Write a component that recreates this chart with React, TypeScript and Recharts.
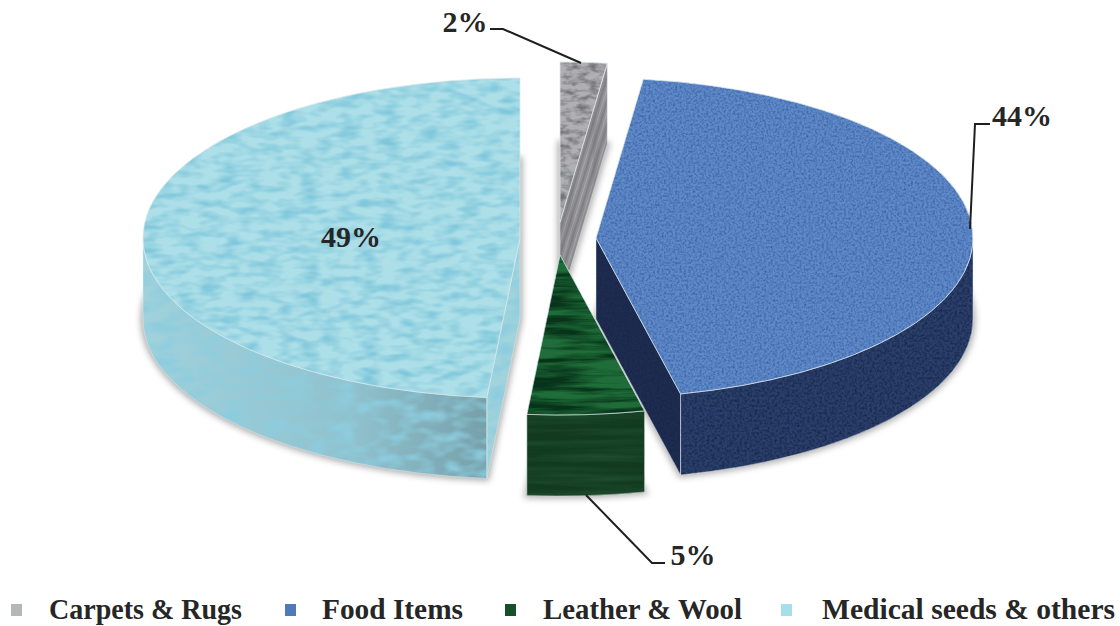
import { Legend, Pie, PieChart } from "recharts";

const categories = ["Carpets & Rugs", "Food Items", "Leather & Wool", "Medical seeds & others"];
const shares = [2.0, 44.4, 5.0, 48.6];

// how far each slice is pulled out of the pie
const explodeX = [0, 36, 0, -40];
const explodeY = [-16, 0, 17, 0];

const topColors = ["#b0b0b4", "#5f8ac8", "#1f6e39", "#addfe8"];
const rimColors = ["#8f8f93", "#2a3f6c", "#113a1e", "url(#medicalRim)"];
const cutColors = ["url(#carpetStripes)", "#1d2c50", "#113a1e", "#a0d3dc"];
const swatchColors = ["#b4b7ba", "#5079ba", "#174f2a", "#a6dfea"];

const labelX = [465, 1022, 693, 351];
const labelY = [32, 126, 565, 247];
const leaders = [
  "490,29 503,29 581,63",
  "990,124 975,124 970,229",
  "665,563 652,563 586,495",
  "",
];
const legendSwatchX = [11, 285, 505, 781];
const legendTextX = [49, 322, 543, 822];
const legendTextWidth = [193, 141, 199, 293];

const SERIF = "'Liberation Serif', serif";
const RX = 377;
const RY = 160;
const DEPTH = 81;
const WIDTH = 1120;
const HEIGHT = 626;

const data = categories.map((name, i) => ({ name, value: shares[i] }));
const rad = (deg: number) => (deg * Math.PI) / 180;

// one noise overlay, clipped to the shape it is applied on
function Grain({ id, freq, octaves, rgb, gain, bias }: any) {
  return (
    <filter id={id} x="0" y="0" width="100%" height="100%" colorInterpolationFilters="sRGB">
      <feTurbulence type="fractalNoise" baseFrequency={freq} numOctaves={octaves} seed={4} result="n" />
      <feColorMatrix
        in="n"
        type="matrix"
        values={`0 0 0 0 ${rgb[0]} 0 0 0 0 ${rgb[1]} 0 0 0 0 ${rgb[2]} ${gain} 0 0 0 ${bias}`}
        result="g"
      />
      <feComposite in="g" in2="SourceAlpha" operator="in" result="c" />
      <feMerge>
        <feMergeNode in="SourceGraphic" />
        <feMergeNode in="c" />
      </feMerge>
    </filter>
  );
}

function Slice3D(props: any) {
  const { cx, cy, startAngle, endAngle, index } = props;
  const i = index ?? categories.indexOf(props.name);
  const t1 = 90 - startAngle;
  const t2 = 90 - endAngle;
  const ox = cx + explodeX[i];
  const oy = cy + explodeY[i];
  const pt = (t: number, drop = 0) => [ox + RX * Math.sin(rad(t)), oy - RY * Math.cos(rad(t)) + drop];
  const arc = (a: number, b: number, drop = 0) => {
    const [x, y] = pt(b, drop);
    const sweep = b > a ? 1 : 0;
    return `A${RX} ${RY} 0 ${Math.abs(b - a) > 180 ? 1 : 0} ${sweep} ${x} ${y}`;
  };
  const at = (t: number, drop = 0) => pt(t, drop).join(" ");

  const top = `M${ox} ${oy} L${at(t1)} ${arc(t1, t2)} Z`;
  const bottom = `M${ox} ${oy + DEPTH} L${at(t1, DEPTH)} ${arc(t1, t2, DEPTH)} Z`;

  const rimFrom = Math.max(t1, 90);
  const rimTo = Math.min(t2, 270);
  const rim =
    rimTo > rimFrom
      ? `M${at(rimFrom)} ${arc(rimFrom, rimTo)} L${at(rimTo, DEPTH)} ${arc(rimTo, rimFrom, DEPTH)} Z`
      : null;

  // a cut face shows only when it turns towards the viewer
  const cutAt = Math.sin(rad(t1)) < -0.001 ? t1 : Math.sin(rad(t2)) > 0.001 ? t2 : null;
  const cut =
    cutAt === null
      ? null
      : `M${ox} ${oy} L${at(cutAt)} L${at(cutAt, DEPTH)} L${ox} ${oy + DEPTH} Z`;

  return (
    <g>
      <defs>
        <filter id="soft" x="-20%" y="-20%" width="140%" height="140%">
          <feGaussianBlur stdDeviation="3" />
        </filter>
        <linearGradient id="medicalRim" x1="0" y1="0" x2="1" y2="0">
          <stop offset="0" stopColor="#a0d2dc" />
          <stop offset="0.6" stopColor="#90c2ce" />
          <stop offset="1" stopColor="#76a0aa" />
        </linearGradient>
        <pattern id="carpetStripes" width="7" height="7" patternUnits="userSpaceOnUse" patternTransform="rotate(17)">
          <rect width="7" height="7" fill="#929296" />
          <rect width="2" height="7" fill="#828286" />
          <rect x="4" width="1" height="7" fill="#a8a8ab" />
        </pattern>
        <Grain id="top0" freq="0.09 0.2" octaves={3} rgb={[0.45, 0.45, 0.47]} gain={2.4} bias={-0.95} />
        <Grain id="top1" freq="0.45 0.45" octaves={2} rgb={[0.24, 0.39, 0.66]} gain={2.2} bias={-0.85} />
        <Grain id="top2" freq="0.012 0.16" octaves={4} rgb={[0.03, 0.2, 0.1]} gain={2.8} bias={-1.0} />
        <Grain id="top3" freq="0.05 0.13" octaves={2} rgb={[0.5, 0.78, 0.86]} gain={2.4} bias={-0.95} />
        <Grain id="rim0" freq="0.12 0.02" octaves={2} rgb={[0.4, 0.4, 0.4]} gain={0.6} bias={-0.25} />
        <Grain id="rim1" freq="0.4 0.4" octaves={2} rgb={[0.1, 0.15, 0.28]} gain={2.2} bias={-0.85} />
        <Grain id="rim2" freq="0.006 0.12" octaves={3} rgb={[0.13, 0.3, 0.19]} gain={2.2} bias={-0.95} />
        <Grain id="rim3" freq="0.045 0.09" octaves={2} rgb={[0.55, 0.8, 0.87]} gain={2.4} bias={-0.95} />
      </defs>
      <path d={bottom} fill="#6f6f6f" stroke="#6f6f6f" strokeWidth={5} opacity={0.55} filter="url(#soft)" />
      {rim && <path d={rim} fill={rimColors[i]} filter={`url(#rim${i})`} />}
      {cut && <path d={cut} fill={cutColors[i]} filter={`url(#rim${i})`} />}
      {rim && <path d={rim} fill="none" stroke="#e8eef0" strokeOpacity={0.45} strokeWidth={1} />}
      {cut && <path d={cut} fill="none" stroke="#e8eef0" strokeOpacity={0.45} strokeWidth={1} />}
      <path d={top} fill={topColors[i]} filter={`url(#top${i})`} />
      <path d={top} fill="none" stroke="#dfeaec" strokeOpacity={0.75} strokeWidth={1} />
    </g>
  );
}

function PercentLabel(props: any) {
  const { index, percent } = props;
  return (
    <g>
      {leaders[index] && <polyline points={leaders[index]} fill="none" stroke="#1f1f1f" strokeWidth={2} />}
      <text
        x={labelX[index]}
        y={labelY[index]}
        textAnchor="middle"
        fontFamily={SERIF}
        fontWeight={700}
        fontSize={30}
        fill="#262626"
      >
        {`${Math.round(percent * 100)}%`}
      </text>
    </g>
  );
}

function renderLegend({ payload }: any) {
  return (
    <svg width={WIDTH} height={36} style={{ display: "block" }}>
      {(payload || []).map((entry: any, i: number) => (
        <g key={entry.value}>
          <rect x={legendSwatchX[i]} y={14} width={11} height={12} fill={swatchColors[i]} />
          <text
            x={legendTextX[i]}
            y={29}
            textLength={legendTextWidth[i]}
            lengthAdjust="spacingAndGlyphs"
            fontFamily={SERIF}
            fontWeight={700}
            fontSize={30}
            fill="#262626"
          >
            {entry.value}
          </text>
        </g>
      ))}
    </svg>
  );
}

export default function App() {
  return (
    <div style={{ position: "absolute", left: 0, top: 0, width: WIDTH, height: HEIGHT, background: "#fff" }}>
      <PieChart width={WIDTH} height={HEIGHT} margin={{ top: 0, right: 0, bottom: 0, left: 0 }}>
        <Pie
          data={data}
          dataKey="value"
          nameKey="name"
          cx={560}
          cy={238}
          innerRadius={0}
          outerRadius={RX}
          startAngle={90}
          endAngle={-270}
          stroke="none"
          isAnimationActive={false}
          shape={Slice3D}
          label={PercentLabel}
          labelLine={false}
        />
        <Legend
          content={renderLegend}
          wrapperStyle={{ left: 0, top: 590, width: WIDTH, height: 36, bottom: "auto" }}
        />
      </PieChart>
    </div>
  );
}
